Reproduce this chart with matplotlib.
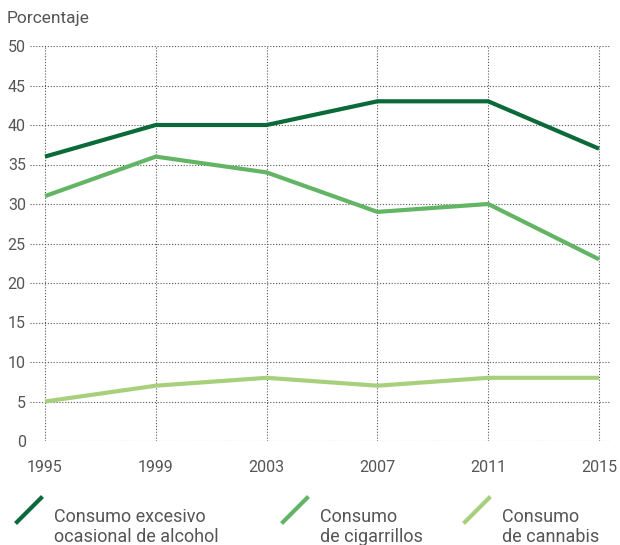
import matplotlib
matplotlib.use("Agg")
import matplotlib.pyplot as plt
from matplotlib.lines import Line2D

plt.rcParams['font.family'] = ['Roboto', 'DejaVu Sans']

anios = [1995, 1999, 2003, 2007, 2011, 2015]
alcohol = [36, 40, 40, 43, 43, 37]
cigarrillos = [31, 36, 34, 29, 30, 23]
cannabis = [5, 7, 8, 7, 8, 8]

etiquetas = ["Consumo excesivo\nocasional de alcohol", "Consumo\nde cigarrillos", "Consumo\nde cannabis"]
colores = ["#0b6a3a", "#63b565", "#a8d07c"]
gris = "#555555"

fig = plt.figure(figsize=(6.2, 5.45), dpi=100)
ax = fig.add_axes([30/620, 1 - 441/545, 580/620, 395/545])

for serie, c in zip([alcohol, cigarrillos, cannabis], colores):
    ax.plot(anios, serie, color=c, lw=3, solid_capstyle='butt', zorder=3)

ax.set_xlim(1995 - 15/554*20, 2015 + 11/554*20)
ax.set_ylim(0, 50)
ax.set_yticks(range(0, 51, 5))
ax.set_xticks(anios)
for s in ax.spines.values():
    s.set_visible(False)
ax.tick_params(length=0, colors=gris, labelsize=11.5)
ax.tick_params(axis='y', pad=3)
ax.tick_params(axis='x', pad=14)
ax.grid(True, color='#555555', lw=0.8, ls=(0, (1, 1.6)))
ax.set_axisbelow(True)

fig.text(7/620, 1 - 18/545, "Porcentaje", color=gris, fontsize=12.5, va='center', ha='left')

# leyenda
pos = [17, 283, 465]
for x0, c, t in zip(pos, colores, etiquetas):
    fig.add_artist(Line2D([x0/620, (x0+24)/620], [1 - 522/545, 1 - 498/545],
                          color=c, lw=3, transform=fig.transFigure))
    fig.text((x0+37)/620, 1 - 527/545, t, color=gris, fontsize=13,
             va='center', ha='left', linespacing=1.15)

fig.savefig("out.png", dpi=100)
